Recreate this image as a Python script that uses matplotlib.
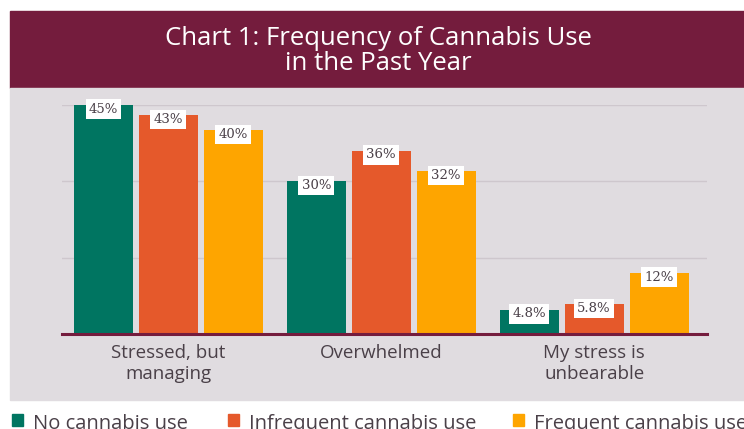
import numpy as np
import matplotlib.pyplot as plt
from matplotlib.patches import Rectangle

categories = ['Stressed, but\nmanaging', 'Overwhelmed', 'My stress is\nunbearable']
series = ['No cannabis use', 'Infrequent cannabis use', 'Frequent cannabis use']
no_use = [45, 30, 4.8]
infrequent = [43, 36, 5.8]
frequent = [40, 32, 12]
labels_no = ['45%', '30%', '4.8%']
labels_inf = ['43%', '36%', '5.8%']
labels_freq = ['40%', '32%', '12%']

colors = ['#007561', '#E5592B', '#FEA500']
maroon = '#741C3D'
panel = '#E0DCE0'
text_col = '#4A4048'
sans = 'Open Sans'

W, H = 744, 429
fig = plt.figure(figsize=(W / 100, H / 100), dpi=100)
fig.patch.set_facecolor('white')

# banner and grey panel behind the chart
fig.patches.append(Rectangle((10 / W, 1 - 88 / H), 734 / W, 77 / H,
                             transform=fig.transFigure, color=maroon, zorder=-2))
fig.patches.append(Rectangle((10 / W, 1 - 400 / H), 734 / W, 312 / H,
                             transform=fig.transFigure, color=panel, zorder=-2))
fig.text(378 / W, 1 - 51 / H, 'Chart 1: Frequency of Cannabis Use\nin the Past Year',
         ha='center', va='center', color='white', fontsize=18.5, family=sans,
         linespacing=0.98)

ax = fig.add_axes([62 / W, 1 - 334 / H, 645 / W, 229 / H])
ax.set_facecolor('none')

x = np.arange(len(categories))
step = 0.305
width = 0.277
for i, (vals, labs) in enumerate([(no_use, labels_no), (infrequent, labels_inf),
                                  (frequent, labels_freq)]):
    xs = x + (i - 1) * step
    ax.bar(xs, vals, width, color=colors[i], zorder=2)
    for xi, v, lab in zip(xs, vals, labs):
        ax.annotate(lab, (xi, v), xytext=(0, -3), textcoords='offset points',
                    ha='center', va='center', fontsize=9.5, color=text_col,
                    family='DejaVu Serif', zorder=4,
                    bbox=dict(boxstyle='square,pad=0.25', fc='white', ec='none'))

ax.set_xlim(-0.5, 2.53)
ax.set_ylim(0, 45)
ax.set_yticks([15, 30, 45])
ax.yaxis.grid(True, color='#CEC7CD', linewidth=1, zorder=0)
ax.tick_params(axis='y', left=False, labelleft=False)
ax.tick_params(axis='x', bottom=False, pad=4)
ax.set_xticks(x)
ax.set_xticklabels(categories, fontsize=13.5, color=text_col, family=sans,
                   linespacing=1.15)
for s in ['top', 'right', 'left']:
    ax.spines[s].set_visible(False)
ax.spines['bottom'].set_color(maroon)
ax.spines['bottom'].set_linewidth(2.2)
ax.spines['bottom'].set_zorder(3)

# legend along the bottom edge
leg_x = [12, 228, 513]
for lx, name, c in zip(leg_x, series, colors):
    fig.patches.append(Rectangle((lx / W, 1 - 426 / H), 11 / W, 12 / H,
                                 transform=fig.transFigure, color=c))
    fig.text((lx + 21) / W, 1 - 424 / H, name, ha='left', va='center',
             fontsize=14.5, color=text_col, family=sans)

fig.savefig('out.png', dpi=100)
